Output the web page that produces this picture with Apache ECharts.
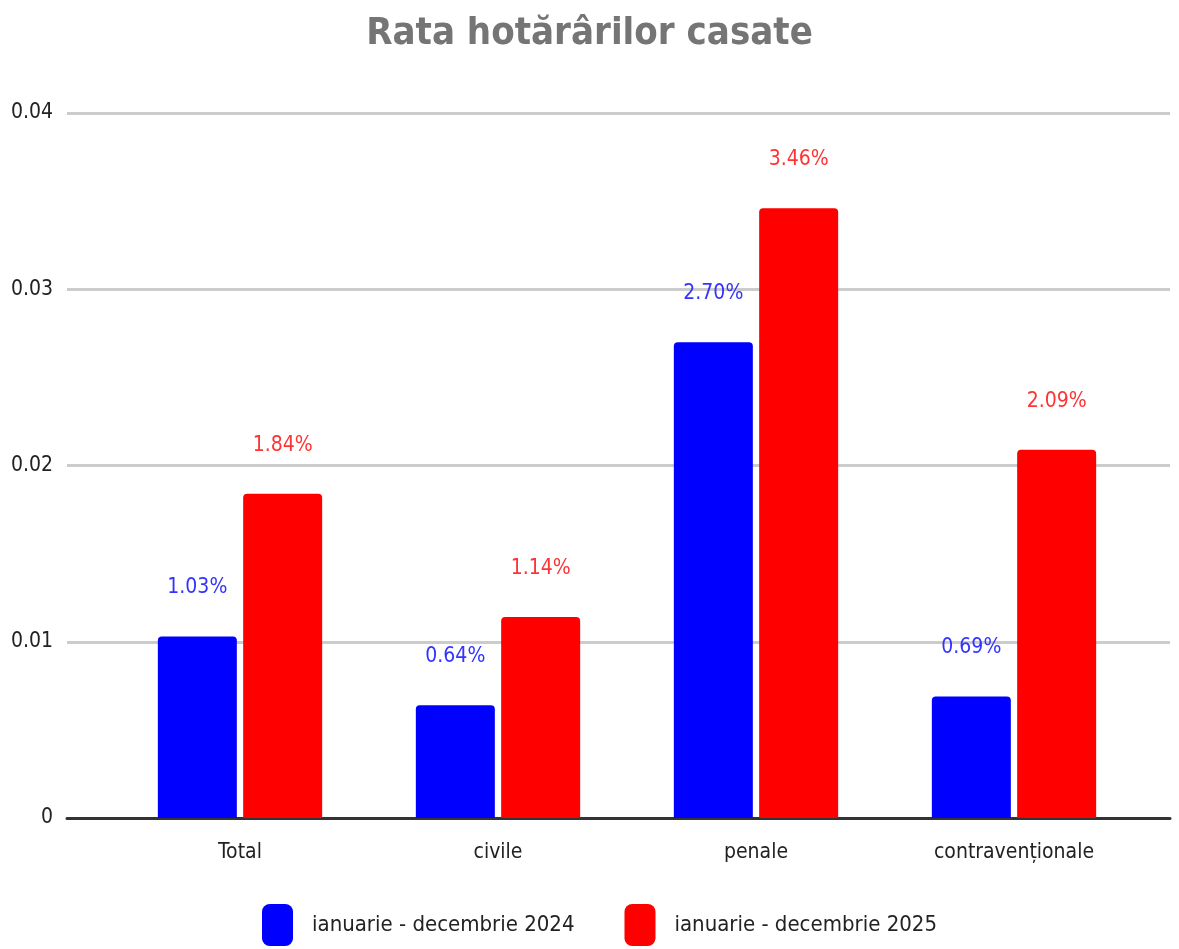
<!DOCTYPE html>
<html>
<head>
<meta charset="utf-8">
<script src="https://cdn.jsdelivr.net/npm/echarts@6/dist/echarts.min.js"></script>
<style>
body{margin:0;background:#fff;}
#chart{width:1179px;height:949px;}
</style>
</head>
<body>
<div id="chart"></div>
<script>
var categories = ['Total', 'civile', 'penale', 'contravenționale']
var seriesNames = ['ianuarie - decembrie 2024', 'ianuarie - decembrie 2025']
var values2024 = [0.0103, 0.0064, 0.0270, 0.0069]
var values2025 = [0.0184, 0.0114, 0.0346, 0.0209]
var yTicks = [0, 0.01, 0.02, 0.03, 0.04]

var font = "'Liberation Sans Narrow', 'DejaVu Sans Condensed', sans-serif"

function pct (p) {
  return (p.value * 100).toFixed(2) + '%'
}

var chart = echarts.init(document.getElementById('chart'))
chart.setOption({
  animation: false,
  title: {
    text: 'Rata hotărârilor casate',
    left: 'center',
    top: 10,
    textStyle: {fontFamily: font, fontSize: 38, fontWeight: 'bold', color: '#757575'}
  },
  legend: {
    top: 904,
    left: 262,
    padding: 0,
    itemWidth: 31,
    itemHeight: 42,
    itemGap: 50,
    icon: 'roundRect',
    textStyle: {fontFamily: font, fontSize: 22, color: '#222', padding: [0, 0, 0, 14]},
    data: seriesNames
  },
  grid: [
    {left: 67, right: 9, top: 113, bottom: 131},
    {left: 111, right: 36, top: 113, bottom: 131}
  ],
  xAxis: [
    {
      type: 'value', gridIndex: 0, min: 0, max: 1,
      axisLine: {show: true, onZero: false, lineStyle: {color: '#333', width: 3}},
      axisTick: {show: false}, axisLabel: {show: false}, splitLine: {show: false}
    },
    {
      type: 'category', gridIndex: 1, data: categories,
      axisLine: {show: false}, axisTick: {show: false},
      axisLabel: {fontFamily: font, fontSize: 21, color: '#222', margin: 24}
    }
  ],
  yAxis: [
    {
      type: 'value', gridIndex: 0, min: yTicks[0], max: yTicks[yTicks.length - 1], interval: 0.01,
      axisLine: {show: false}, axisTick: {show: false},
      axisLabel: {fontFamily: font, fontSize: 21, color: '#222', margin: 14},
      splitLine: {lineStyle: {color: '#cccccc', width: 3}}
    },
    {
      type: 'value', gridIndex: 1, min: 0, max: 0.04, show: false
    }
  ],
  series: [
    {
      name: seriesNames[0], type: 'bar', xAxisIndex: 1, yAxisIndex: 1,
      data: values2024, barWidth: 79, barGap: '8%',
      itemStyle: {color: '#0000ff', borderRadius: [4, 4, 0, 0]},
      label: {show: true, position: 'top', distance: 38, formatter: pct,
        fontFamily: font, fontSize: 21, color: '#3333ff'}
    },
    {
      name: seriesNames[1], type: 'bar', xAxisIndex: 1, yAxisIndex: 1,
      data: values2025, barWidth: 79,
      itemStyle: {color: '#ff0000', borderRadius: [4, 4, 0, 0]},
      label: {show: true, position: 'top', distance: 38, formatter: pct,
        fontFamily: font, fontSize: 21, color: '#ff3333'}
    }
  ]
})
</script>
</body>
</html>
